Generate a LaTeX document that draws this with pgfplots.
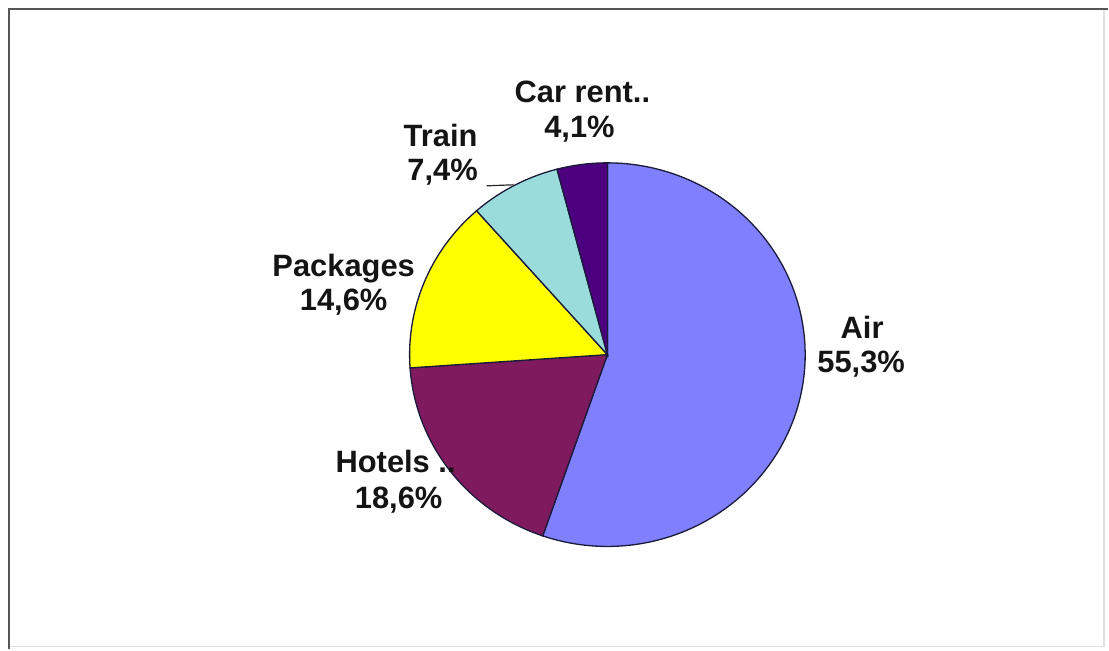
\documentclass[border=0pt]{standalone}
\usepackage{pgfplots}
\usepackage{pgfplotstable}
\usepackage{fontspec}
\setmainfont{Liberation Sans}
\pgfplotsset{compat=1.18}

\definecolor{cAir}{HTML}{8080FF}
\definecolor{cHotels}{HTML}{7F1A5E}
\definecolor{cPack}{HTML}{FFFF00}
\definecolor{cTrain}{HTML}{9ADCDC}
\definecolor{cCar}{HTML}{4C0080}
\definecolor{edge}{HTML}{1A1A3A}
\definecolor{frame}{HTML}{555555}

% shares in percent, clockwise from 12 o'clock
\pgfplotstableread{
label share
Air 55.3
Hotels 18.6
Packages 14.6
Train 7.4
Carrent 4.1
}\piedata

% cumulative boundary angles (degrees)
\pgfplotstablegetelem{0}{share}\of\piedata\pgfmathsetmacro\bA{90-3.6*\pgfplotsretval}
\pgfplotstablegetelem{1}{share}\of\piedata\pgfmathsetmacro\bB{\bA-3.6*\pgfplotsretval}
\pgfplotstablegetelem{2}{share}\of\piedata\pgfmathsetmacro\bC{\bB-3.6*\pgfplotsretval}
\pgfplotstablegetelem{3}{share}\of\piedata\pgfmathsetmacro\bD{\bC-3.6*\pgfplotsretval}
\pgfplotstablegetelem{4}{share}\of\piedata\pgfmathsetmacro\bE{\bD-3.6*\pgfplotsretval}

\pgfplotsset{wedge/.style={draw=edge, line width=1.3bp, samples=90, variable=\t}}
\tikzset{lbl/.style={anchor=base, inner sep=0pt, text=black!92,
  font=\bfseries\fontsize{31}{35}\selectfont}}

\begin{document}
\begin{tikzpicture}
\begin{axis}[
    hide axis, scale only axis,
    width=1109bp, height=650bp,
    xmin=0, xmax=1109, ymin=0, ymax=650,
    y dir=reverse, clip=false,
]
\path (axis cs:0,0) rectangle (axis cs:1109,650);
% frame
\draw[black!12, line width=1.5bp] (axis cs:1105,9) -- (axis cs:1105,647) -- (axis cs:9,647);
\draw[frame, line width=2.2bp] (axis cs:9,650) -- (axis cs:9,9) -- (axis cs:1109,9);

\addplot[wedge, fill=cAir, domain=\bA:90]
  ({608+198*cos(\t)},{355-192*sin(\t)}) -- (axis cs:608,355) -- cycle;
\addplot[wedge, fill=cHotels, domain=\bB:\bA]
  ({608+198*cos(\t)},{355-192*sin(\t)}) -- (axis cs:608,355) -- cycle;
\addplot[wedge, fill=cPack, domain=\bC:\bB]
  ({608+198*cos(\t)},{355-192*sin(\t)}) -- (axis cs:608,355) -- cycle;
\addplot[wedge, fill=cTrain, domain=\bD:\bC]
  ({608+198*cos(\t)},{355-192*sin(\t)}) -- (axis cs:608,355) -- cycle;
\addplot[wedge, fill=cCar, domain=\bE:\bD]
  ({608+198*cos(\t)},{355-192*sin(\t)}) -- (axis cs:608,355) -- cycle;

% leader line for Train
\addplot[black!85, line width=1.2bp] coordinates {(487,186) (514,185)};

\node[lbl] at (axis cs:583,103) {Car rent..};
\node[lbl] at (axis cs:580,138) {4,1\%};
\node[lbl] at (axis cs:441,147) {Train};
\node[lbl] at (axis cs:443,181) {7,4\%};
\node[lbl] at (axis cs:344,277) {Packages};
\node[lbl] at (axis cs:344,311) {14,6\%};
\node[lbl] at (axis cs:396,473) {Hotels ..};
\node[lbl] at (axis cs:399,509) {18,6\%};
\node[lbl] at (axis cs:863,339) {Air};
\node[lbl] at (axis cs:862,373) {55,3\%};
\end{axis}
\end{tikzpicture}
\end{document}
